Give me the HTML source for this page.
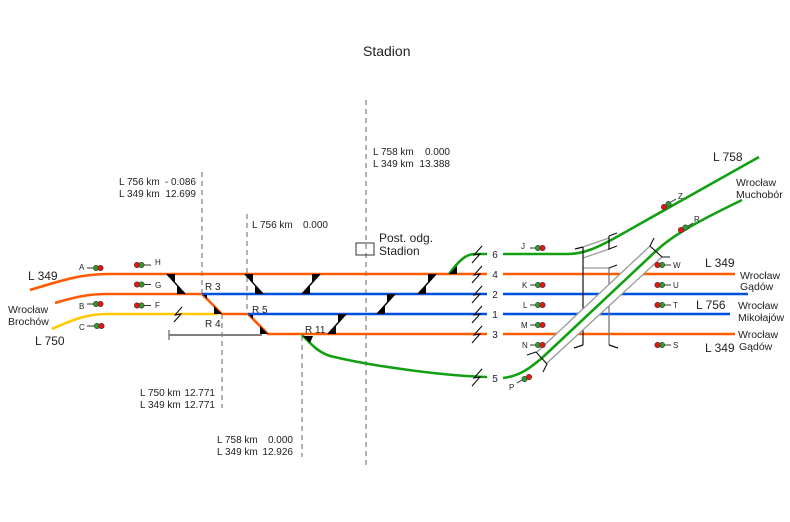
<!DOCTYPE html>
<html><head><meta charset="utf-8"><style>
html,body{margin:0;padding:0;background:#fff;}
svg{display:block;}
text{font-family:"Liberation Sans",Arial,sans-serif;fill:#222;}
</style></head><body>
<svg width="790" height="522" viewBox="0 0 790 522" xmlns="http://www.w3.org/2000/svg">
<rect width="790" height="522" fill="#fff"/>
<text x="363" y="56" font-size="14">Stadion</text>

<g stroke="#666" stroke-width="1" stroke-dasharray="5,4" fill="none">
<line x1="202" y1="172" x2="202" y2="294"/>
<line x1="222" y1="314" x2="222" y2="408"/>
<line x1="247" y1="214" x2="247" y2="314"/>
<line x1="302" y1="336" x2="302" y2="457"/>
<line x1="366" y1="100" x2="366" y2="466"/>
</g>

<!-- gray stub -->
<line x1="169" y1="335" x2="262" y2="335" stroke="#808080" stroke-width="2"/>
<line x1="169" y1="330" x2="169" y2="340" stroke="#808080" stroke-width="1.5"/>

<g fill="none" stroke-width="2.6">
<path d="M30,290 C60,281 80,274 108,274 L487,274" stroke="#ff5a00"/>
<line x1="503" y1="274" x2="735" y2="274" stroke="#ff5a00"/>
<path d="M55,303 C75,297 88,294 108,294 L202,294 L222,314 L248,314 L268,334 L487,334" stroke="#ff5a00"/>
<line x1="503" y1="334" x2="735" y2="334" stroke="#ff5a00"/>
<path d="M52,329 C72,320 86,314 108,314 L218,314" stroke="#ffc800"/>
<line x1="202" y1="294" x2="487" y2="294" stroke="#0050e0"/>
<line x1="503" y1="294" x2="748" y2="294" stroke="#0050e0"/>
<line x1="248" y1="314" x2="487" y2="314" stroke="#0050e0"/>
<line x1="503" y1="314" x2="730" y2="314" stroke="#0050e0"/>
<path d="M449,274 C458,262 465,254 475,254 L487,254" stroke="#12a012"/>
<path d="M503,254 L568,254 C585,254 600,246 613,239 L759,157" stroke="#12a012"/>
<path d="M302,335 C312,345 318,352 330,356 C380,368 450,376 487,377" stroke="#12a012"/>
</g>

<!-- crossovers -->
<g stroke="#000" stroke-width="1.4">
<line x1="167" y1="274" x2="185" y2="294"/>
<line x1="245" y1="274" x2="263" y2="294"/>
<line x1="302" y1="294" x2="320" y2="274"/>
<line x1="328" y1="334" x2="346" y2="314"/>
<line x1="377" y1="314" x2="395" y2="294"/>
<line x1="418" y1="294" x2="436" y2="274"/>
</g>
<g fill="#000">
<polygon points="167,274 175,274 175,283"/>
<polygon points="185,294 177,294 177,285"/>
<polygon points="245,274 253,274 253,283"/>
<polygon points="263,294 255,294 255,285"/>
<polygon points="302,294 310,294 310,285"/>
<polygon points="320,274 312,274 312,283"/>
<polygon points="328,334 336,334 336,325"/>
<polygon points="346,314 338,314 338,323"/>
<polygon points="377,314 385,314 385,305"/>
<polygon points="395,294 387,294 387,303"/>
<polygon points="418,294 426,294 426,285"/>
<polygon points="436,274 428,274 428,283"/>
<polygon points="214,314 222,314 214,306"/>
<polygon points="260,334 268,334 260,326"/>
<polygon points="203,295 207,295 207,299"/>
<polygon points="249,315 253,315 253,319"/>
<polygon points="303,336 313,336 310,343"/>
<polygon points="449,274 457,274 457,266"/>
</g>

<!-- isolating joints -->
<g stroke="#000" stroke-width="1" fill="none">
<path d="M482,246 L474,255 L480,254 L472,263"/>
<path d="M482,266 L474,275 L480,274 L472,283"/>
<path d="M482,286 L474,295 L480,294 L472,303"/>
<path d="M482,306 L474,315 L480,314 L472,323"/>
<path d="M482,326 L474,335 L480,334 L472,343"/>
<path d="M482,369 L474,378 L480,377 L472,386"/>
<path d="M182,307 L175,315 L181,314 L174,322"/>
</g>

<!-- track numbers -->
<g font-size="10" text-anchor="middle">
<text x="495" y="258">6</text>
<text x="495" y="278">4</text>
<text x="495" y="298">2</text>
<text x="495" y="318">1</text>
<text x="495" y="338">3</text>
<text x="495" y="382">5</text>
</g>

<!-- overpass structures -->
<g stroke="#999" stroke-width="1.2" fill="none">
<line x1="583" y1="247" x2="609" y2="238"/>
<line x1="583" y1="258" x2="609" y2="249"/>
<line x1="583" y1="268" x2="609" y2="268"/>
</g>
<line x1="609" y1="268" x2="609" y2="345" stroke="#777" stroke-width="1.3"/>
<g stroke="#111" stroke-width="1.2" fill="none">
<line x1="583" y1="247" x2="583" y2="345"/>
<line x1="575" y1="249" x2="583" y2="247"/>
<line x1="574" y1="348" x2="583" y2="345"/>
<line x1="609" y1="236" x2="609" y2="250"/>
<line x1="609" y1="236" x2="617" y2="233"/>
<line x1="609" y1="249" x2="617" y2="246"/>
<line x1="609" y1="268" x2="617" y2="265"/>
<line x1="609" y1="345" x2="618" y2="348"/>
</g>

<!-- bridge -->
<polygon points="537,352 650,246 662,257 547,363" fill="#fff" stroke="none"/>
<g stroke="#999" stroke-width="1.3">
<line x1="537" y1="352" x2="650" y2="246"/>
<line x1="547" y1="363" x2="662" y2="257"/>
</g>
<path d="M503,378 C520,376 530,368 542,358 L656,251 C675,233 705,218 742,200" fill="none" stroke="#12a012" stroke-width="2.6"/>
<g stroke="#111" stroke-width="1.1" fill="none">
<polyline points="527,355 536,352 547,364 543,372"/>
<polyline points="654,238 650,246 662,257 670,257"/>
</g>

<!-- station box -->
<rect x="356" y="243" width="18" height="12" fill="none" stroke="#333" stroke-width="1"/>
<text x="379" y="242" font-size="12">Post. odg.</text>
<text x="379" y="255" font-size="12">Stadion</text>

<!-- km labels -->
<g font-size="10">
<text x="119" y="185">L 756 km</text><text x="196" y="185" text-anchor="end">- 0.086</text>
<text x="119" y="197">L 349 km</text><text x="196" y="197" text-anchor="end">12.699</text>
<text x="373" y="155">L 758 km</text><text x="450" y="155" text-anchor="end">0.000</text>
<text x="373" y="167">L 349 km</text><text x="450" y="167" text-anchor="end">13.388</text>
<text x="252" y="228">L 756 km</text><text x="328" y="228" text-anchor="end">0.000</text>
<text x="140" y="396">L 750 km</text><text x="215" y="396" text-anchor="end">12.771</text>
<text x="140" y="408">L 349 km</text><text x="215" y="408" text-anchor="end">12.771</text>
<text x="217" y="443">L 758 km</text><text x="293" y="443" text-anchor="end">0.000</text>
<text x="217" y="455">L 349 km</text><text x="293" y="455" text-anchor="end">12.926</text>
</g>

<!-- switch labels -->
<g font-size="10">
<text x="205" y="290">R 3</text>
<text x="205" y="327">R 4</text>
<text x="252" y="313">R 5</text>
<text x="305" y="333">R 11</text>
</g>

<!-- line labels -->
<g font-size="12">
<text x="28" y="280">L 349</text>
<text x="35" y="345">L 750</text>
<text x="713" y="161">L 758</text>
<text x="705" y="267">L 349</text>
<text x="696" y="309">L 756</text>
<text x="705" y="352">L 349</text>
</g>
<g font-size="10.5">
<text x="8" y="313">Wrocław</text>
<text x="8" y="325">Brochów</text>
<text x="736" y="186">Wrocław</text>
<text x="736" y="198">Muchobór</text>
<text x="740" y="279">Wrocław</text>
<text x="740" y="290">Gądów</text>
<text x="738" y="309">Wrocław</text>
<text x="738" y="321">Mikołajów</text>
<text x="738" y="338">Wrocław</text>
<text x="739" y="350">Gądów</text>
</g>

<!-- signals -->
<g stroke="#333" stroke-width="1">
<line x1="87" y1="268" x2="93" y2="268"/>
<line x1="144" y1="265" x2="151" y2="265"/>
<line x1="144" y1="284.5" x2="151" y2="284.5"/>
<line x1="87" y1="304" x2="93" y2="304"/>
<line x1="144" y1="305.5" x2="151" y2="305.5"/>
<line x1="87" y1="326" x2="94" y2="326"/>
<line x1="530" y1="248" x2="535" y2="248"/>
<line x1="530" y1="285" x2="535" y2="285"/>
<line x1="530" y1="305" x2="535" y2="305"/>
<line x1="530" y1="325" x2="535" y2="325"/>
<line x1="530" y1="345" x2="535" y2="345"/>
<line x1="517" y1="383" x2="522" y2="380"/>
<line x1="664" y1="265" x2="671" y2="265"/>
<line x1="664" y1="285" x2="671" y2="285"/>
<line x1="664" y1="305" x2="671" y2="305"/>
<line x1="664" y1="345" x2="671" y2="345"/>
<line x1="671" y1="202" x2="676" y2="199"/>
<line x1="688" y1="226" x2="693" y2="223"/>
</g>
<g stroke="#333" stroke-width="0.6">
<g fill="#2e9a2e">
<circle cx="96" cy="268" r="2.7"/><circle cx="141.5" cy="265" r="2.7"/><circle cx="141.5" cy="284.5" r="2.7"/>
<circle cx="96" cy="304" r="2.7"/><circle cx="141.5" cy="305.5" r="2.7"/><circle cx="97" cy="326" r="2.7"/>
<circle cx="538" cy="248" r="2.7"/><circle cx="538" cy="285" r="2.7"/><circle cx="538" cy="305" r="2.7"/>
<circle cx="538" cy="325" r="2.7"/><circle cx="538" cy="345" r="2.7"/><circle cx="524.5" cy="379" r="2.7"/>
<circle cx="662" cy="265" r="2.7"/><circle cx="662" cy="285" r="2.7"/><circle cx="662" cy="305" r="2.7"/>
<circle cx="662" cy="345" r="2.7"/><circle cx="668.5" cy="204" r="2.7"/><circle cx="685.5" cy="227.5" r="2.7"/>
</g>
<g fill="#ee1111">
<circle cx="100.5" cy="268" r="2.7"/><circle cx="137" cy="265" r="2.7"/><circle cx="137" cy="284.5" r="2.7"/>
<circle cx="100.5" cy="304" r="2.7"/><circle cx="137" cy="305.5" r="2.7"/><circle cx="101.5" cy="326" r="2.7"/>
<circle cx="542.5" cy="248" r="2.7"/><circle cx="542.5" cy="285" r="2.7"/><circle cx="542.5" cy="305" r="2.7"/>
<circle cx="542.5" cy="325" r="2.7"/><circle cx="542.5" cy="345" r="2.7"/><circle cx="529" cy="377" r="2.7"/>
<circle cx="657.5" cy="265" r="2.7"/><circle cx="657.5" cy="285" r="2.7"/><circle cx="657.5" cy="305" r="2.7"/>
<circle cx="657.5" cy="345" r="2.7"/><circle cx="664" cy="207" r="2.7"/><circle cx="681" cy="230" r="2.7"/>
</g>
</g>
<g font-size="8">
<text x="79" y="270">A</text>
<text x="155" y="265">H</text>
<text x="155" y="288">G</text>
<text x="79" y="309">B</text>
<text x="155" y="308">F</text>
<text x="79" y="330">C</text>
<text x="521" y="249">J</text>
<text x="522" y="288">K</text>
<text x="523" y="308">L</text>
<text x="521" y="328">M</text>
<text x="522" y="348">N</text>
<text x="509" y="390">P</text>
<text x="673" y="268">W</text>
<text x="673" y="288">U</text>
<text x="673" y="308">T</text>
<text x="673" y="348">S</text>
<text x="678" y="199">Z</text>
<text x="694" y="222">R</text>
</g>
</svg>
</body></html>
